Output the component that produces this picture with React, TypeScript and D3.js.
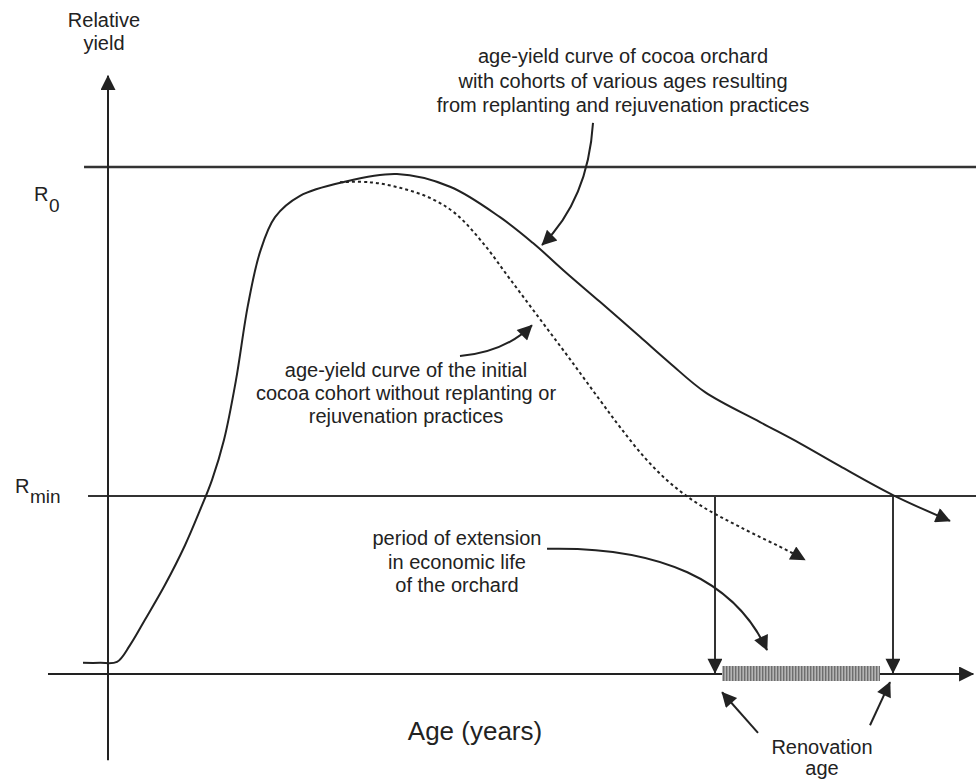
import React from "react";
import * as d3 from "d3";

// ---- data (age in arbitrary years units, yield relative to R0 = 1) ----
const R0 = 1;
const RMIN = 0.351;

// age-yield curve of the orchard with cohorts of various ages
const cohortCurve: [number, number][] = [
  [-2.94, 0.022], [-0.94, 0.022], [1.06, 0.024], [2.59, 0.057], [4.35, 0.107],
  [6.71, 0.176], [9.06, 0.254], [10.82, 0.323], [12.24, 0.383], [13.65, 0.462],
  [15.06, 0.58], [16.47, 0.728], [17.88, 0.832], [19.65, 0.901], [22.59, 0.943],
  [27.65, 0.97], [34.0, 0.986], [40.24, 0.961], [46.12, 0.901], [50.0, 0.85],
  [54.0, 0.79], [57.88, 0.734], [62.59, 0.665], [66.12, 0.613], [70.24, 0.556],
  [76.71, 0.497], [81.41, 0.455], [86.12, 0.41], [92.35, 0.353], [99.06, 0.302],
];

// age-yield curve of the initial cohort (no replanting)
const initialCurve: [number, number][] = [
  [27.29, 0.97], [30.82, 0.97], [34.35, 0.959], [37.88, 0.939], [40.82, 0.909],
  [44.12, 0.85], [47.29, 0.779], [50.82, 0.7], [54.35, 0.621], [57.88, 0.54],
  [60.24, 0.487], [63.18, 0.426], [66.12, 0.377], [69.65, 0.333], [74.35, 0.29],
  [80.24, 0.241], [82.0, 0.225],
];

const renovationAges = [71.41, 92.35];
const extensionPeriod = [72.24, 90.82];

const topNote = [
  "age-yield curve of cocoa orchard",
  "with cohorts of various ages resulting",
  "from replanting and rejuvenation practices",
];
const initialNote = [
  "age-yield curve of the initial",
  "cocoa cohort without replanting or",
  "rejuvenation practices",
];
const extensionNote = ["period of extension", "in economic life", "of the orchard"];
const yAxisTitle = ["Relative", "yield"];
const renovationLabel = ["Renovation", "age"];
const xAxisTitle = "Age (years)";

const W = 976;
const H = 780;
const FONT = "'Liberation Sans', Arial, Helvetica, sans-serif";
const INK = "#222";

export default function App() {
  const x = d3.scaleLinear().domain([0, 100]).range([108, 958]);
  const y = d3.scaleLinear().domain([0, 1]).range([674, 167]);

  const line = d3
    .line<[number, number]>()
    .x((d) => x(d[0]))
    .y((d) => y(d[1]))
    .curve(d3.curveCatmullRom.alpha(0.5));

  const P = (a: number, b: number) => `${x(a)},${y(b)}`;

  const textBlock = (
    lines: string[],
    cx: number,
    baseline0: number,
    step: number,
    size = 20
  ) =>
    lines.map((t, i) => (
      <text
        key={t}
        x={cx}
        y={baseline0 + i * step}
        textAnchor="middle"
        fontSize={size}
        fontFamily={FONT}
        fill={INK}
      >
        {t}
      </text>
    ));

  return (
    <svg
      width={W}
      height={H}
      style={{ position: "absolute", left: 0, top: 0, background: "#fff" }}
    >
      <defs>
        <marker
          id="ah"
          viewBox="0 0 10 10"
          refX={9.5}
          refY={5}
          markerWidth={19}
          markerHeight={15}
          markerUnits="userSpaceOnUse"
          orient="auto"
        >
          <path d="M0,0 L10,5 L0,10 Z" fill={INK} />
        </marker>
        <marker
          id="axh"
          viewBox="0 0 10 10"
          refX={9.5}
          refY={5}
          markerWidth={16}
          markerHeight={15}
          markerUnits="userSpaceOnUse"
          orient="auto"
        >
          <path d="M0,0 L10,5 L0,10 Z" fill={INK} />
        </marker>
        <pattern id="hatch" width={3} height={10} patternUnits="userSpaceOnUse">
          <rect width={3} height={10} fill="#b4b4b4" />
          <rect width={1.4} height={10} fill="#6e6e6e" />
        </pattern>
      </defs>

      {/* reference lines R0 and Rmin */}
      <line x1={x(-2.82)} x2={W} y1={y(R0)} y2={y(R0)} stroke="#333" strokeWidth={2.4} />
      <line x1={x(-2.35)} x2={W} y1={y(RMIN)} y2={y(RMIN)} stroke="#333" strokeWidth={2} />

      {/* axes */}
      <line
        x1={x(0)}
        x2={x(0)}
        y1={y(-0.17)}
        y2={y(1.18)}
        stroke={INK}
        strokeWidth={2}
        markerEnd="url(#axh)"
      />
      <line
        x1={x(-7.06)}
        x2={x(101.8)}
        y1={y(0)}
        y2={y(0)}
        stroke={INK}
        strokeWidth={2}
        markerEnd="url(#axh)"
      />

      {/* extension bar */}
      <rect
        x={x(extensionPeriod[0])}
        width={x(extensionPeriod[1]) - x(extensionPeriod[0])}
        y={y(0) - 8}
        height={15}
        fill="url(#hatch)"
      />

      {/* renovation-age drop arrows */}
      {renovationAges.map((a) => (
        <line
          key={a}
          x1={x(a)}
          x2={x(a)}
          y1={y(RMIN)}
          y2={y(0.002)}
          stroke="#333"
          strokeWidth={2}
          markerEnd="url(#ah)"
        />
      ))}

      {/* curves */}
      <path
        d={line(initialCurve) || ""}
        fill="none"
        stroke={INK}
        strokeWidth={2}
        strokeDasharray="3,3"
        markerEnd="url(#ah)"
      />
      <path
        d={line(cohortCurve) || ""}
        fill="none"
        stroke={INK}
        strokeWidth={2}
        markerEnd="url(#ah)"
      />

      {/* annotation arrows */}
      <path
        d={`M${P(57.06, 1.087)} Q${P(56.47, 0.935)} ${P(51.06, 0.846)}`}
        fill="none"
        stroke={INK}
        strokeWidth={2}
        markerEnd="url(#ah)"
      />
      <path
        d={`M${P(41.41, 0.627)} Q${P(46.71, 0.635)} ${P(49.88, 0.688)}`}
        fill="none"
        stroke={INK}
        strokeWidth={2}
        markerEnd="url(#ah)"
      />
      <path
        d={`M${P(51.65, 0.247)} C${P(64.94, 0.252)} ${P(73.76, 0.185)} ${P(77.53, 0.047)}`}
        fill="none"
        stroke={INK}
        strokeWidth={2}
        markerEnd="url(#ah)"
      />
      <path
        d={`M${P(76.47, -0.116)} L${P(72.24, -0.036)}`}
        fill="none"
        stroke={INK}
        strokeWidth={2}
        markerEnd="url(#ah)"
      />
      <path
        d={`M${P(89.65, -0.101)} L${P(92.0, -0.016)}`}
        fill="none"
        stroke={INK}
        strokeWidth={2}
        markerEnd="url(#ah)"
      />

      {/* texts */}
      {textBlock(yAxisTitle, 104, 27, 23)}
      {textBlock(topNote, 623, 63, 24.5)}
      {textBlock(initialNote, 406, 377, 23)}
      {textBlock(extensionNote, 457, 545, 23.5)}
      {textBlock(renovationLabel, 822, 754, 21)}
      <text x={475} y={740} textAnchor="middle" fontSize={26} fontFamily={FONT} fill={INK}>
        {xAxisTitle}
      </text>

      <text x={34} y={201} fontSize={20} fontFamily={FONT} fill={INK}>
        R
      </text>
      <text x={49} y={212} fontSize={19} fontFamily={FONT} fill={INK}>
        0
      </text>
      <text x={15} y={493} fontSize={20} fontFamily={FONT} fill={INK}>
        R
      </text>
      <text x={30} y={503} fontSize={19} fontFamily={FONT} fill={INK}>
        min
      </text>
    </svg>
  );
}
